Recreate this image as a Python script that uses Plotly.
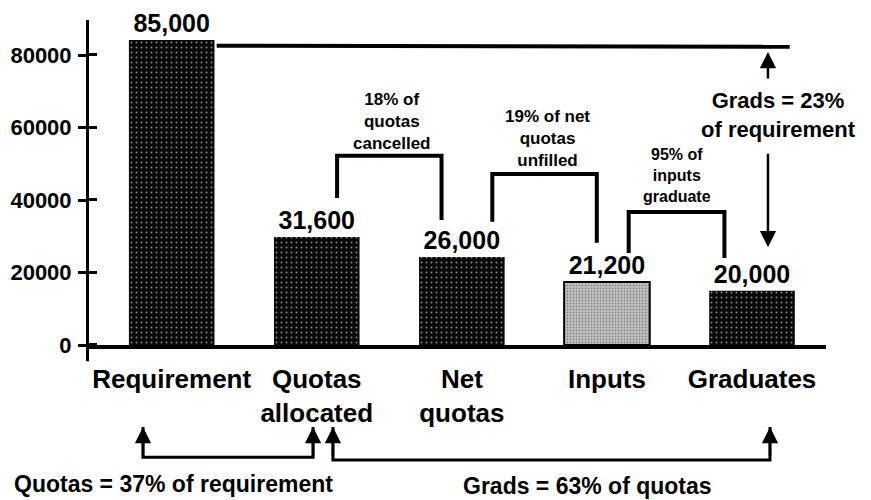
import plotly.graph_objects as go

categories = ["Requirement", "Quotas<br>allocated", "Net<br>quotas", "Inputs", "Graduates"]
bar_values = [84200, 29800, 24300, 17400, 15000]
value_labels = ["85,000", "31,600", "26,000", "21,200", "20,000"]
y_ticks = [0, 20000, 40000, 60000, 80000]
y_tick_text = ["0", "20000", "40000", "60000", "80000"]

FONT = "Liberation Sans, Arial, Helvetica, sans-serif"

def bfont(size):
    return dict(family=FONT, size=size, color="black", weight="bold")

fig = go.Figure()
fig.add_trace(go.Bar(
    x=categories, y=bar_values, text=value_labels,
    textposition="outside", textfont=bfont(25), cliponaxis=False,
    width=0.59,
    marker=dict(
        color=["#080808", "#080808", "#080808", "#c4c4c4", "#080808"],
        line=dict(color="black", width=[0, 0, 0, 2, 0]),
        pattern=dict(
            shape=".",
            fgcolor=["#6a6a6a", "#6a6a6a", "#6a6a6a", "#8a8a8a", "#6a6a6a"],
            size=[5, 5, 5, 3, 5],
            solidity=[0.12, 0.12, 0.12, 0.3, 0.12],
            fillmode="overlay",
        ),
    ),
    hoverinfo="skip", showlegend=False,
))

line = dict(color="black", width=4)
shapes = []
brackets = [
    (1.14, 1.86, 52200, 40600, 34500),
    (2.21, 2.93, 47200, 34000, 28200),
    (3.15, 3.81, 36700, 25400, 24000),
]
for x0, x1, ytop, yl, yr in brackets:
    shapes.append(dict(type="path", xref="x", yref="y",
                       path=f"M {x0},{yl} L {x0},{ytop} L {x1},{ytop} L {x1},{yr}",
                       line=line))
shapes.append(dict(type="line", xref="x", yref="y", x0=0.31, x1=4.26, y0=82600, y1=82300,
                   line=dict(color="black", width=4)))
# y-axis tail below zero
shapes.append(dict(type="line", xref="paper", yref="paper", x0=-0.002, x1=-0.002,
                   y0=0, y1=-0.05, line=dict(color="black", width=3)))
# bottom brackets (paper coords)
shapes.append(dict(type="path", xref="paper", yref="paper",
                   path="M 0.0733,-0.252 L 0.0733,-0.345 L 0.304,-0.345 L 0.304,-0.252",
                   line=dict(color="black", width=3)))
shapes.append(dict(type="path", xref="paper", yref="paper",
                   path="M 0.331,-0.252 L 0.331,-0.354 L 0.924,-0.354 L 0.924,-0.252",
                   line=dict(color="black", width=3)))

annotations = []
def txt(x, y, text, size, xref="x", yref="y"):
    annotations.append(dict(x=x, y=y, xref=xref, yref=yref, text=text, showarrow=False,
                            font=bfont(size), align="center",
                            xanchor="center", yanchor="middle"))

txt(1.52, 61800, "18% of<br>quotas<br>cancelled", 17)
txt(2.59, 57100, "19% of net<br>quotas<br>unfilled", 17)
txt(3.48, 46900, "95% of<br>inputs<br>graduate", 16)
txt(4.18, 63500, "Grads = 23%<br>of requirement", 22)
txt(0.114, -0.428, "Quotas = 37% of requirement", 23, "paper", "paper")
txt(0.676, -0.434, "Grads = 63% of quotas", 23, "paper", "paper")

def arrow(x, y, ax, ay, xref="x", yref="y"):
    annotations.append(dict(x=x, y=y, xref=xref, yref=yref, ax=ax, ay=ay, text="",
                            showarrow=True, arrowhead=2, arrowsize=1.3, arrowwidth=2.5,
                            arrowcolor="black", standoff=0))

arrow(4.11, 80900, 0, 28)
arrow(4.11, 27000, 0, -95)
for px in [0.0733, 0.304, 0.331, 0.924]:
    arrow(px, -0.252, 0, 30, "paper", "paper")

fig.update_layout(
    width=871, height=500,
    margin=dict(l=81, r=53, t=12, b=163, autoexpand=False),
    plot_bgcolor="white", paper_bgcolor="white",
    shapes=shapes, annotations=annotations,
    xaxis=dict(range=[-0.57, 4.51], showline=True, linewidth=4, linecolor="black",
               ticks="", tickfont=bfont(26), showgrid=False, zeroline=False,
               ticklabelstandoff=8, automargin=False),
    yaxis=dict(range=[0, 89700], tickvals=y_ticks, ticktext=y_tick_text, showline=True,
               linewidth=3, linecolor="black", ticks="outside", ticklen=8, tickwidth=3,
               tickcolor="black", tickfont=bfont(22), showgrid=False, zeroline=False,
               ticklabelstandoff=2, automargin=False,
               minor=dict(tickmode="array", tickvals=[v + 60 for v in y_ticks],
                          ticks="inside", ticklen=8, tickwidth=3, tickcolor="black",
                          showgrid=False)),
)

fig.write_html("out.html")
